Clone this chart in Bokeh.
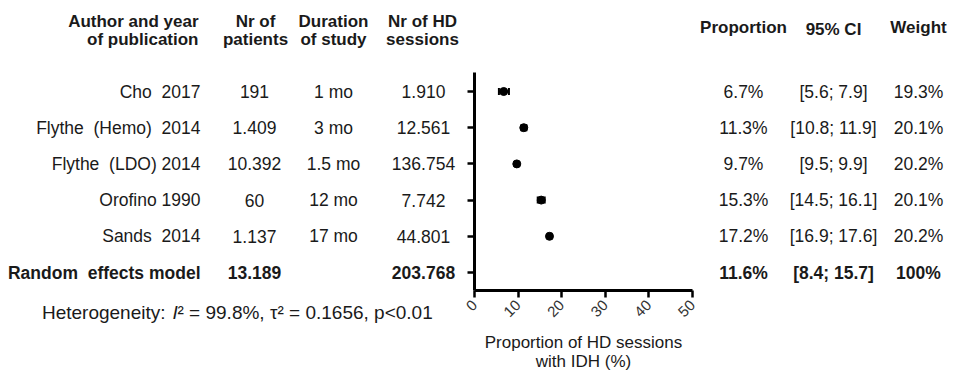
import math
from bokeh.plotting import figure
from bokeh.models import (ColumnDataSource, LabelSet, Label, Range1d, FixedTicker, Whisker,
                          TeeHead, LinearAxis)
from bokeh.core.properties import value
from bokeh.embed import file_html
from bokeh.resources import INLINE

# ---------------- data ----------------
NB = "\u00a0"
authors = ["Cho " + NB + "2017", "Flythe " + NB + "(Hemo) " + NB + "2014", "Flythe " + NB + "(LDO) 2014",
           "Orofino 1990", "Sands " + NB + "2014"]
patients = ["191", "1.409", "10.392", "60", "1.137"]
durations = ["1 mo", "3 mo", "1.5 mo", "12 mo", "17 mo"]
sessions = ["1.910", "12.561", "136.754", "7.742", "44.801"]
proportion = [6.7, 11.3, 9.7, 15.3, 17.2]
ci_low = [5.6, 10.8, 9.5, 14.5, 16.9]
ci_high = [7.9, 11.9, 9.9, 16.1, 17.6]
weights = [19.3, 20.1, 20.2, 20.1, 20.2]

pooled_label = "Random " + NB + "effects model"
pooled_patients = "13.189"
pooled_sessions = "203.768"
pooled_prop = 11.6
pooled_low = 8.4
pooled_high = 15.7
pooled_weight = "100%"

x_ticks = [0, 10, 20, 30, 40, 50]
het_parts = ["Heterogeneity:", "I", "\u00b2 = 99.8%, \u03c4\u00b2 = 0.1656, p<0.01"]
axis_title = "Proportion of HD sessions\nwith IDH (%)"

# ---------------- layout constants ----------------
W, H = 953, 371
AX_LEFT, AX_RIGHT = 474, 692      # pixels of x = 0 and x = 50
ROW0_PX, ROW_STEP = 91, 36.2      # pixel of first row and row spacing
K = (AX_RIGHT - AX_LEFT) / 50.0
FONT = "Liberation Sans"
TXT = "#1a1a1a"
BODY = "17.5px"
HEAD = "17px"
HET = "19px"

n = len(authors)
rows = list(range(n))
pooled_row = n
y_top, y_bottom = -0.525, 5.5    # extent of the vertical axis (in rows)

x_range = Range1d(-AX_LEFT / K, (W - AX_LEFT) / K)
y_range = Range1d((H - ROW0_PX) / ROW_STEP, -ROW0_PX / ROW_STEP)

p = figure(width=W, height=H, x_range=x_range, y_range=y_range,
           output_backend="svg", toolbar_location=None, min_border=0,
           x_axis_location=None, y_axis_location=None)
p.outline_line_color = None
p.xgrid.visible = False
p.ygrid.visible = False
p.background_fill_color = "white"
p.border_fill_color = "white"

xaxis = LinearAxis(fixed_location=y_bottom, bounds=(0, 50), ticker=FixedTicker(ticks=x_ticks))
y_ticks = rows + [pooled_row]
yaxis = LinearAxis(fixed_location=0, bounds=(y_top, y_bottom), ticker=FixedTicker(ticks=y_ticks))
for ax in (xaxis, yaxis):
    ax.axis_line_width = 3
    ax.axis_line_color = "black"
    ax.major_tick_line_width = 2.5
    ax.major_tick_line_color = "black"
    ax.major_tick_out = 7
    ax.major_tick_in = 0
    ax.minor_tick_line_color = None

yaxis.major_label_overrides = {t: "" for t in y_ticks}
xaxis.major_label_orientation = math.pi / 4
xaxis.major_label_text_font = FONT
xaxis.major_label_text_font_size = "15px"
xaxis.major_label_text_color = "#333333"
xaxis.axis_label = axis_title
xaxis.axis_label_text_font = FONT
xaxis.axis_label_text_font_size = "17px"
xaxis.axis_label_text_font_style = "normal"
xaxis.axis_label_text_color = TXT
xaxis.axis_label_text_line_height = 1.0
xaxis.axis_label_standoff = 9
p.add_layout(xaxis, "below")
p.add_layout(yaxis, "left")

# CI whiskers and points
src = ColumnDataSource(dict(row=rows, prop=proportion, lo=ci_low, hi=ci_high))
p.add_layout(Whisker(source=src, base="row", lower="lo", upper="hi", dimension="width",
                     line_width=2, line_color="black",
                     lower_head=TeeHead(size=7, line_width=2, line_color="black"),
                     upper_head=TeeHead(size=7, line_width=2, line_color="black")))
p.scatter("prop", "row", source=src, size=8, color="black")

# ---------------- table text ----------------
tbl = ColumnDataSource(dict(
    row=rows,
    author=authors,
    patients=patients,
    duration=durations,
    sessions=sessions,
    prop=[f"{v:.1f}%" for v in proportion],
    ci=[f"[{a:.1f}; {b:.1f}]" for a, b in zip(ci_low, ci_high)],
    weight=[f"{w:.1f}%" for w in weights],
))
pooled = ColumnDataSource(dict(
    row=[pooled_row],
    author=[pooled_label],
    patients=[pooled_patients],
    sessions=[pooled_sessions],
    prop=[f"{pooled_prop:.1f}%"],
    ci=[f"[{pooled_low:.1f}; {pooled_high:.1f}]"],
    weight=[pooled_weight],
))

columns = [("author", 200, "right"), ("patients", 254, "center"), ("duration", 333, "center"),
           ("sessions", 423, "center"), ("prop", 743, "center"), ("ci", 833, "center"),
           ("weight", 918, "center")]
for source, style in ((tbl, "normal"), (pooled, "bold")):
    for field, px, align in columns:
        if field not in source.data:
            continue
        p.add_layout(LabelSet(x=px, y="row", x_units="screen", y_units="data", text=field,
                              source=source, text_align=align, text_baseline="middle",
                              text_font=value(FONT), text_font_size=value(BODY),
                              text_font_style=value(style), text_color=TXT))

def screen_label(text, px, py, align, size, style="normal"):
    p.add_layout(Label(x=px, y=H - py, x_units="screen", y_units="screen", text=text,
                       text_align=align, text_baseline="middle", text_font=FONT,
                       text_font_size=size, text_font_style=style, text_color=TXT))

# headers
headers = [("Author and year", 198, 21, "right"), ("of publication", 198, 39, "right"),
           ("Nr of", 255, 21, "center"), ("patients", 255, 39, "center"),
           ("Duration", 333, 21, "center"), ("of study", 333, 39, "center"),
           ("Nr of HD", 422, 21, "center"), ("sessions", 422, 39, "center"),
           ("Proportion", 743, 27, "center"), ("95% CI", 833, 29, "center"),
           ("Weight", 918, 27, "center")]
for t, px, py, align in headers:
    screen_label(t, px, py, align, HEAD, "bold")

# heterogeneity line
het_y = 312
screen_label(het_parts[0], 165, het_y, "right", HET)
screen_label(het_parts[1], 172, het_y, "left", HET, "italic")
screen_label(het_parts[2], 177, het_y, "left", HET)

open("out.html", "w").write(file_html(p, INLINE))
